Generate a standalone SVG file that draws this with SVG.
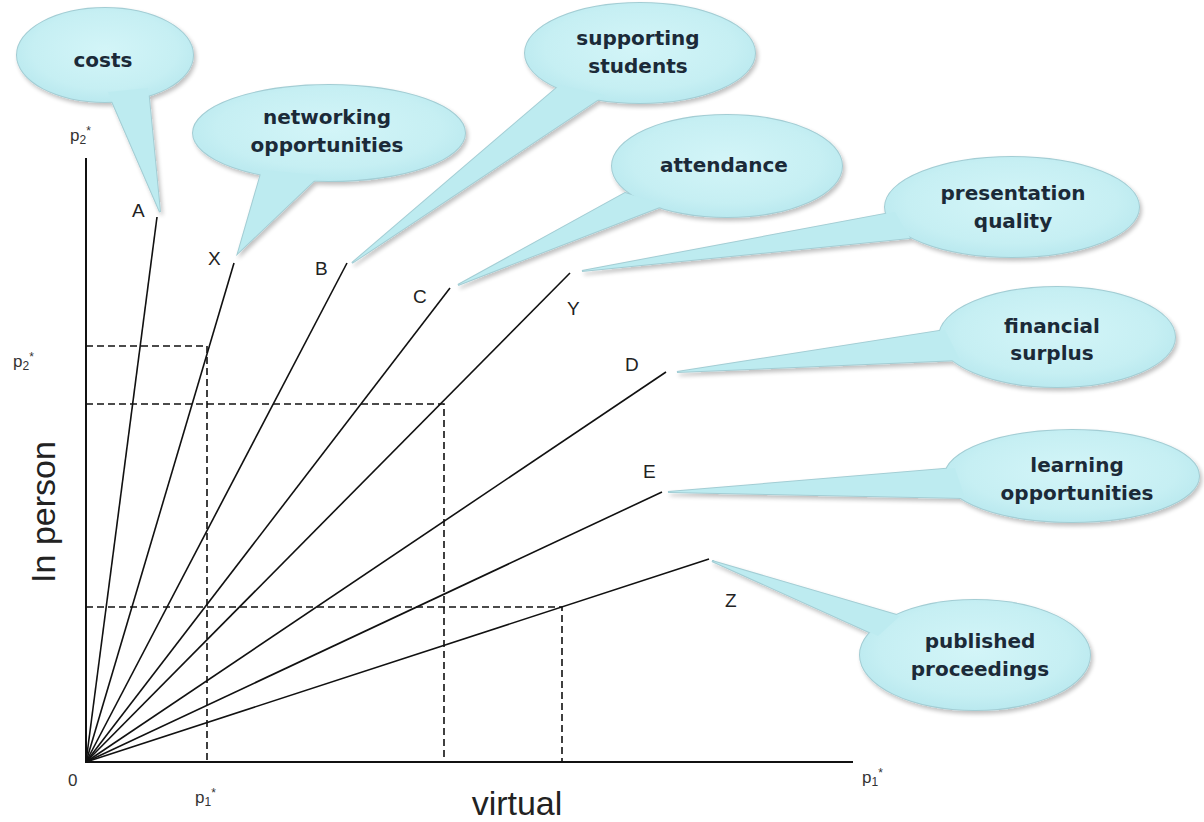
<svg xmlns="http://www.w3.org/2000/svg" width="1204" height="822" viewBox="0 0 1204 822">
<style>
.ax{stroke:#111;stroke-width:2;fill:none}
.ray{stroke:#111;stroke-width:1.6;fill:none}
.dash{stroke:#111;stroke-width:1.6;fill:none;stroke-dasharray:7 4}
.bo{fill:none;stroke:#a3cdd4;stroke-width:2}
.bf{fill:url(#bg);stroke:none}
.tf{fill:#bdebf0;stroke:none}
.bt{font-family:"DejaVu Sans",Verdana,sans-serif;font-weight:bold;font-size:20px;fill:#1b2a38;text-anchor:middle}
.lb{font-family:"Liberation Sans",Arial,sans-serif;font-size:19px;fill:#222}
.pl{font-family:"Liberation Sans",Arial,sans-serif;font-size:17px;fill:#333}
.big{font-family:"Liberation Sans",Arial,sans-serif;font-size:34px;fill:#222}
</style>
<defs>
<radialGradient id="bg" cx="0.5" cy="0.45" r="0.55">
<stop offset="0" stop-color="#d3f5f8"/>
<stop offset="0.75" stop-color="#c6eff3"/>
<stop offset="1" stop-color="#bae9ef"/>
</radialGradient>
<filter id="sh" x="-10%" y="-10%" width="130%" height="140%">
<feGaussianBlur in="SourceAlpha" stdDeviation="2"/>
<feOffset dx="2" dy="3" result="b"/>
<feComponentTransfer><feFuncA type="linear" slope="0.25"/></feComponentTransfer>
<feMerge><feMergeNode/><feMergeNode in="SourceGraphic"/></feMerge>
</filter>
</defs>
<rect width="1204" height="822" fill="#fff"/>

<g id="axes">
<line class="ax" x1="86" y1="158" x2="86" y2="762"/>
<line class="ax" x1="85" y1="762" x2="853" y2="762"/>
</g>

<g id="guides">
<polyline class="dash" points="86,346 207,346 207,762"/>
<polyline class="dash" points="86,404 444,404 444,762"/>
<polyline class="dash" points="86,607 562,607 562,762"/>
</g>

<g id="connectors">
<line class="ray" x1="86" y1="762" x2="157" y2="217"/>
<line class="ray" x1="86" y1="762" x2="234" y2="263"/>
<line class="ray" x1="86" y1="762" x2="347" y2="263"/>
<line class="ray" x1="86" y1="762" x2="450" y2="288"/>
<line class="ray" x1="86" y1="762" x2="570" y2="273"/>
<line class="ray" x1="86" y1="762" x2="666" y2="372"/>
<line class="ray" x1="86" y1="762" x2="662" y2="492"/>
<line class="ray" x1="86" y1="762" x2="709" y2="559"/>
</g>

<g id="ray-labels">
<text class="lb" x="132" y="217">A</text>
<text class="lb" x="208" y="265">X</text>
<text class="lb" x="315" y="275">B</text>
<text class="lb" x="413" y="303">C</text>
<text class="lb" x="567" y="315">Y</text>
<text class="lb" x="625" y="371">D</text>
<text class="lb" x="643" y="478">E</text>
<text class="lb" x="725" y="607">Z</text>
</g>

<g id="axis-labels">
<text class="pl" x="68" y="786">0</text>
<text class="pl" x="70" y="141">p<tspan font-size="12" dy="3">2</tspan><tspan font-size="12" dy="-9">*</tspan></text>
<text class="pl" x="13" y="367">p<tspan font-size="12" dy="3">2</tspan><tspan font-size="12" dy="-9">*</tspan></text>
<text class="pl" x="195" y="803">p<tspan font-size="12" dy="3">1</tspan><tspan font-size="12" dy="-9">*</tspan></text>
<text class="pl" x="862" y="783">p<tspan font-size="12" dy="3">1</tspan><tspan font-size="12" dy="-9">*</tspan></text>
<text class="big" x="517" y="815" text-anchor="middle">virtual</text>
<text class="big" transform="translate(55,512) rotate(-90)" text-anchor="middle">In person</text>
</g>

<g id="bubble-costs">
<g filter="url(#sh)">
<ellipse class="bo" cx="105" cy="55" rx="88" ry="47"/>
<polygon class="bo" points="108,92 148,88 160,212"/>
<ellipse class="bf" cx="105" cy="55" rx="88" ry="47"/>
<polygon class="tf" points="108,92 148,88 160,212"/>
</g>
<text class="bt" x="103" y="67">costs</text>
</g>

<g id="bubble-networking">
<g filter="url(#sh)">
<ellipse class="bo" cx="329" cy="133" rx="136" ry="48"/>
<polygon class="bo" points="262,170 320,175 238,253"/>
<ellipse class="bf" cx="329" cy="133" rx="136" ry="48"/>
<polygon class="tf" points="262,170 320,175 238,253"/>
</g>
<text class="bt" x="327" y="124">networking</text>
<text class="bt" x="327" y="152">opportunities</text>
</g>

<g id="bubble-supporting">
<g filter="url(#sh)">
<ellipse class="bo" cx="640" cy="53" rx="115" ry="50"/>
<polygon class="bo" points="560,85 605,95 352,263"/>
<ellipse class="bf" cx="640" cy="53" rx="115" ry="50"/>
<polygon class="tf" points="560,85 605,95 352,263"/>
</g>
<text class="bt" x="638" y="45">supporting</text>
<text class="bt" x="638" y="73">students</text>
</g>

<g id="bubble-attendance">
<g filter="url(#sh)">
<ellipse class="bo" cx="727" cy="166" rx="115" ry="51"/>
<polygon class="bo" points="625,193 665,205 458,285"/>
<ellipse class="bf" cx="727" cy="166" rx="115" ry="51"/>
<polygon class="tf" points="625,193 665,205 458,285"/>
</g>
<text class="bt" x="724" y="172">attendance</text>
</g>

<g id="bubble-presentation">
<g filter="url(#sh)">
<ellipse class="bo" cx="1012" cy="207" rx="127" ry="50"/>
<polygon class="bo" points="895,212 910,238 582,271"/>
<ellipse class="bf" cx="1012" cy="207" rx="127" ry="50"/>
<polygon class="tf" points="895,212 910,238 582,271"/>
</g>
<text class="bt" x="1013" y="200">presentation</text>
<text class="bt" x="1013" y="228">quality</text>
</g>

<g id="bubble-financial">
<g filter="url(#sh)">
<ellipse class="bo" cx="1057" cy="337" rx="118" ry="50"/>
<polygon class="bo" points="945,330 960,360 677,372"/>
<ellipse class="bf" cx="1057" cy="337" rx="118" ry="50"/>
<polygon class="tf" points="945,330 960,360 677,372"/>
</g>
<text class="bt" x="1052" y="333">financial</text>
<text class="bt" x="1052" y="360">surplus</text>
</g>

<g id="bubble-learning">
<g filter="url(#sh)">
<ellipse class="bo" cx="1072" cy="476" rx="127" ry="46"/>
<polygon class="bo" points="955,468 965,498 668,492"/>
<ellipse class="bf" cx="1072" cy="476" rx="127" ry="46"/>
<polygon class="tf" points="955,468 965,498 668,492"/>
</g>
<text class="bt" x="1077" y="472">learning</text>
<text class="bt" x="1077" y="500">opportunities</text>
</g>

<g id="bubble-published">
<g filter="url(#sh)">
<ellipse class="bo" cx="975" cy="655" rx="115" ry="55"/>
<polygon class="bo" points="900,616 878,636 712,561"/>
<ellipse class="bf" cx="975" cy="655" rx="115" ry="55"/>
<polygon class="tf" points="900,616 878,636 712,561"/>
</g>
<text class="bt" x="980" y="648">published</text>
<text class="bt" x="980" y="676">proceedings</text>
</g>
</svg>
